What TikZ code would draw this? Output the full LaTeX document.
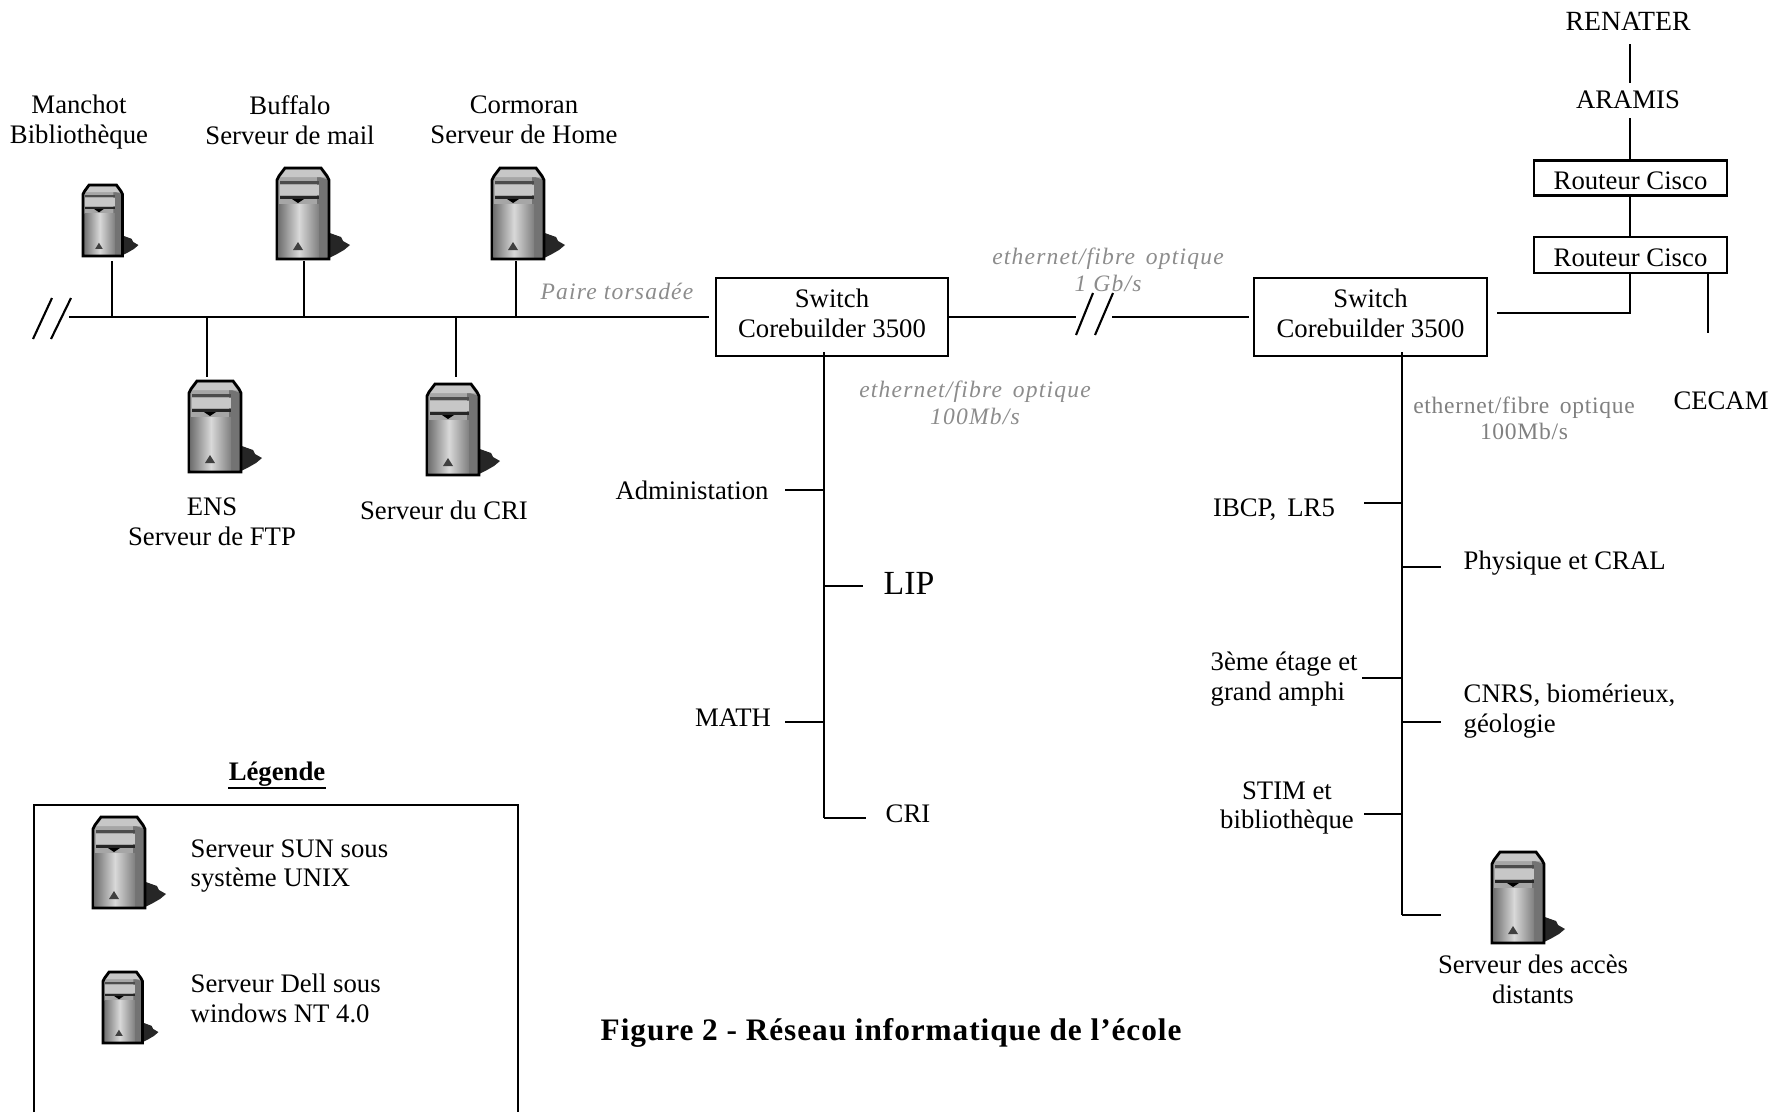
\documentclass[tikz,border=0pt]{standalone}
\usepackage{fontspec}
\setmainfont{Liberation Serif}
\usetikzlibrary{calc, patterns}

\tikzset{
    lien/.style={line width=0.6pt},
    boite/.style={draw, line width=0.75pt, inner sep=0pt, align=center, font=\fontsize{7.6}{8.5}\selectfont},
    txt/.style={inner sep=0pt, align=center, font=\fontsize{7.6}{8.5}\selectfont},
    txtg/.style={inner sep=0pt, align=left, anchor=west, font=\fontsize{7.6}{8.5}\selectfont},
    debit/.style={inner sep=0pt, align=center, text=black!45, font=\fontsize{6.7}{7.5}\selectfont\itshape\addfontfeature{LetterSpace=5}},
    debitd/.style={inner sep=0pt, align=center, text=black!50, font=\fontsize{6.7}{7.5}\selectfont\addfontfeature{LetterSpace=3}},
    petit/.style={xscale=0.76, yscale=0.78},
    pics/serveur/.style={code={
        % ombre
        \fill[black!85] (50,64)--(64,69)--(66,73)--(73,77)--(67,82)--(60,86)--(50,91)--cycle;
        % corps
        \fill[black!35] (0,12)--(2,8)--(8,0)--(44,0)--(50,8)--(52,12)--(52,91)--(0,91)--cycle;
        \fill[black!55] (40,8)--(52,12)--(52,91)--(40,91)--cycle;
        \shade[left color=black!55, right color=black!50, middle color=black!15] (2,36) rectangle (42,90);
        \fill[black!22] (8,2)--(44,2)--(48,9)--(2,9)--cycle;
        \fill[black!70] (3,13) rectangle (42,16);
        \fill[black!22] (3,17) rectangle (42,27);
        \fill[black!85] (3,28) rectangle (42,31);
        \fill[black] (15,31)--(27,31)--(21,35)--cycle;
        \fill[black!75] (16,82)--(21,74)--(26,82)--cycle;
        \draw[line width=0.8pt] (0,12)--(2,8)--(8,0)--(44,0)--(50,8)--(52,12)--(52,91)--(0,91)--cycle;
    }}
}

\begin{document}
\begin{tikzpicture}[x=0.01cm, y=-0.01cm]
    \useasboundingbox (0,0) rectangle (1782,1112);

    % serveurs
    \pic[petit] (manchot) at (83,185) {serveur};
    \pic (buffalo) at (277,168) {serveur};
    \pic (cormoran) at (492,168) {serveur};
    \pic (ens) at (189,381) {serveur};
    \pic (cri) at (427,384) {serveur};
    \pic (acces) at (1492,852) {serveur};
    \pic (sun) at (93,817) {serveur};
    \pic[petit] (dell) at (103,972) {serveur};

    \node[txt] (tmanchot) at (79,122) {Manchot\\Bibliothèque};
    \node[txt] (tbuffalo) at (290,120) {Buffalo\\Serveur de mail};
    \node[txt] (tcormoran) at (524,120) {Cormoran\\Serveur de Home};
    \node[txt] (tens) at (212,522) {ENS\\Serveur de FTP};
    \node[txt] (tcri) at (444,510) {Serveur du CRI};
    \node[txt] (tacces) at (1533,979) {Serveur des accès\\distants};

    % bus de gauche
    \coordinate (busg) at (69,317);
    \coordinate (busd) at (709,317);
    \draw[lien] (busg) -- (busd);
    \foreach \n/\x/\ya/\yb in {a/112/261/317, b/304/261/317, c/516/261/317, d/207/317/377, e/456/317/377} {
        \coordinate (\n-h) at (\x,\ya);
        \coordinate (\n-b) at (\x,\yb);
        \draw[lien] (\n-h) -- (\n-b);
    }
    \foreach \n/\xa/\xb in {s1/52/33, s2/71/51, s3/1093/1076, s4/1113/1095} {
        \coordinate (\n-h) at (\xa,\ifnum\xa<100 298\else 293\fi);
        \coordinate (\n-b) at (\xb,\ifnum\xa<100 339\else 335\fi);
        \draw[lien] (\n-h) -- (\n-b);
    }

    % switchs et routeurs
    \node[boite, minimum width=2.32cm, minimum height=0.78cm] (sw1) at (832,317) {\raisebox{2.3pt}{Switch}\\\raisebox{2.3pt}{Corebuilder 3500}};
    \node[boite, minimum width=2.33cm, minimum height=0.78cm] (sw2) at (1370.5,317) {\raisebox{2.3pt}{Switch}\\\raisebox{2.3pt}{Corebuilder 3500}};
    \node[boite, minimum width=1.93cm, minimum height=0.35cm] (r1) at (1630.5,178) {\raisebox{-0.65pt}[\height][\depth]{Routeur Cisco}};
    \node[boite, minimum width=1.93cm, minimum height=0.36cm] (r2) at (1630.5,255) {\raisebox{-0.65pt}[\height][\depth]{Routeur Cisco}};
    \node[txt, font=\fontsize{7.9}{8.5}\selectfont] (renater) at (1628,21) {RENATER};
    \node[txt] (aramis) at (1628,100) {ARAMIS};
    \node[txt] (cecam) at (1721,401) {CECAM};

    \coordinate (co1) at (1076,317);
    \coordinate (co2) at (1112,317);
    \coordinate (co3) at (1249,317);
    \coordinate (re) at (1630,44);
    \coordinate (ar1) at (1630,83);
    \coordinate (ar2) at (1630,118);
    \coordinate (r1h) at (1630,160);
    \coordinate (r1b) at (1630,195);
    \coordinate (r2h) at (1630,237);
    \coordinate (r2b) at (1630,313);
    \coordinate (sw2d) at (1497,313);
    \coordinate (ce1) at (1708,273);
    \coordinate (ce2) at (1708,333);
    \draw[lien] (sw1.east) -- (co1) (co2) -- (co3);
    \draw[lien] (re) -- (ar1) (ar2) -- (r1h) (r1b) -- (r2h);
    \draw[lien] (r2b |- r2.south) -- (r2b) -- (sw2d);
    \draw[lien] (ce1) -- (ce2);

    % descentes
    \coordinate (v1h) at (824,352);
    \coordinate (v1b) at (824,818);
    \coordinate (v2h) at (1402,352);
    \coordinate (v2b) at (1402,915);
    \draw[lien] (v1h) -- (v1b);
    \draw[lien] (v2h) -- (v2b);
    \foreach \n/\xa/\xb/\y in {f/785/824/490, g/824/863/586, h/785/824/722, i/824/866/818, j/1364/1402/503, k/1402/1441/567, l/1362/1402/678, m/1402/1441/722, n/1364/1402/814, o/1402/1441/915} {
        \coordinate (\n-g) at (\xa,\y);
        \coordinate (\n-d) at (\xb,\y);
        \draw[lien] (\n-g) -- (\n-d);
    }

    \node[txt] (admin) at (692,490) {Administation};
    \node[txt, font=\fontsize{9.6}{11}\selectfont] (lip) at (909,583) {LIP};
    \node[txt] (math) at (733,718) {MATH};
    \node[txt] (cricri) at (908,814) {CRI};
    \node[txt] (ibcp) at (1274,510) {IBCP,\, LR5};
    \node[txtg] (phys) at (1463,563) {Physique et CRAL};
    \node[txtg] (etage) at (1210,679) {3ème étage et\\grand amphi};
    \node[txtg] (cnrs) at (1463,711) {CNRS, biomérieux,\\géologie};
    \node[txt] (stim) at (1287,808) {STIM et\\bibliothèque};

    % debits
    \node[debit] (paire) at (617,291) {Paire torsadée};
    \node[debit] (deb1) at (1108,270) {ethernet/fibre\, optique\\1 Gb/s};
    \node[debit] (deb2) at (975,403) {ethernet/fibre\, optique\\100Mb/s};
    \node[debitd] (deb3) at (1524,418) {ethernet/fibre\, optique\\100Mb/s};

    % legende
    \node[txt, font=\fontsize{7.6}{8.5}\selectfont\bfseries] (leg) at (277,774) {Légende};
    \draw[line width=0.75pt] ([yshift=-0.3pt]leg.south west) -- ([yshift=-0.3pt]leg.south east);
    \coordinate (lg1) at (34,1112);
    \coordinate (lg2) at (34,805);
    \coordinate (lg3) at (518,805);
    \coordinate (lg4) at (518,1112);
    \draw[line width=0.75pt] (lg1) -- (lg2) -- (lg3) -- (lg4);
    \node[txtg] (tsun) at (190,866) {Serveur SUN sous\\système UNIX};
    \node[txtg] (tdell) at (190,998) {Serveur Dell sous\\windows NT 4.0};

    \node[txtg, font=\fontsize{8.9}{10}\selectfont\bfseries\addfontfeature{LetterSpace=3}] (titre) at (600,1033) {Figure 2 - Réseau informatique de l’école};
\end{tikzpicture}
\end{document}
